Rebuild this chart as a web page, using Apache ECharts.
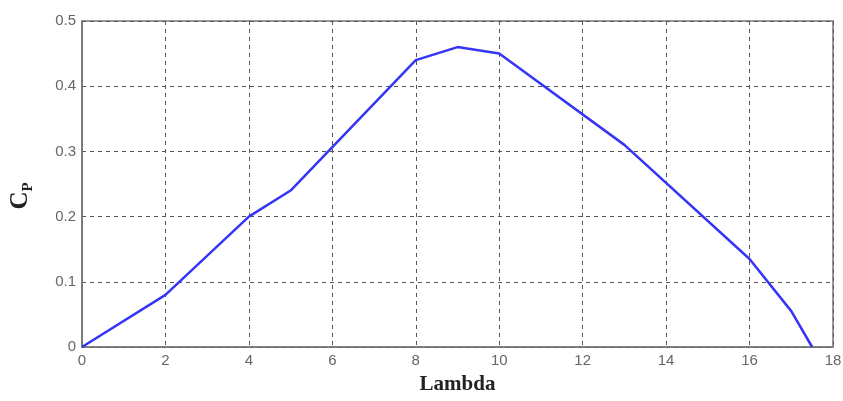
<!DOCTYPE html>
<html><head><meta charset="utf-8">
<script src="https://cdn.jsdelivr.net/npm/echarts@6/dist/echarts.min.js"></script>
<style>html,body{margin:0;padding:0;background:#fff}#c{width:843px;height:401px}</style>
</head><body><div id="c"></div>
<script>
var lambdaValues = [0, 2, 4, 5, 8, 9, 10, 13, 16, 17, 17.5];
var cpValues = [0, 0.08, 0.2, 0.24, 0.44, 0.46, 0.45, 0.31, 0.135, 0.055, 0];
var xTicks = [0, 2, 4, 6, 8, 10, 12, 14, 16, 18];
var yTicks = [0, 0.1, 0.2, 0.3, 0.4, 0.5];

var data = lambdaValues.map(function (x, i) { return [x, cpValues[i]]; });
var chart = echarts.init(document.getElementById('c'));
chart.setOption({
  animation: false,
  backgroundColor: '#fff',
  grid: { left: 82, right: 10, top: 21, bottom: 54, show: true, borderColor: '#777', borderWidth: 1.5,
    containLabel: false, outerBoundsMode: 'none' },
  xAxis: {
    type: 'value', min: 0, max: 18, interval: 2,
    name: 'Lambda', nameLocation: 'middle', nameGap: 27,
    nameTextStyle: { fontFamily: 'Liberation Serif', fontWeight: 'bold', fontSize: 21, color: '#222' },
    axisLine: { show: true, lineStyle: { color: '#777', width: 1.5 } },
    axisTick: { show: false },
    axisLabel: { color: '#666', fontSize: 15, fontFamily: 'Liberation Sans', margin: 6,
      formatter: function (v) { return xTicks.indexOf(v) >= 0 ? String(v) : ''; } },
    splitLine: { show: true, lineStyle: { color: '#555', type: [4, 4], width: 1 } }
  },
  yAxis: {
    type: 'value', min: 0, max: 0.5, interval: 0.1,
    name: '{c|C}{s|P}', nameLocation: 'middle', nameGap: 46, nameRotate: 90,
    nameTextStyle: { padding: [0, 24, 0, 0], rich: {
      c: { fontFamily: 'Liberation Serif', fontWeight: 'bold', fontSize: 25, color: '#222' },
      s: { fontFamily: 'Liberation Serif', fontWeight: 'bold', fontSize: 15, color: '#222', padding: [16, 0, 0, 0] }
    } },
    axisLine: { show: true, lineStyle: { color: '#777', width: 1.5 } },
    axisTick: { show: false },
    axisLabel: { color: '#666', fontSize: 15, fontFamily: 'Liberation Sans', margin: 6,
      formatter: function (v) { var r = Math.round(v * 10) / 10; return yTicks.indexOf(r) >= 0 ? String(r) : ''; } },
    splitLine: { show: true, lineStyle: { color: '#555', type: [4, 4], width: 1 } }
  },
  series: [{
    type: 'line', data: data, symbol: 'none',
    lineStyle: { color: '#3535f5', width: 2.5 }
  }]
});
</script></body></html>
